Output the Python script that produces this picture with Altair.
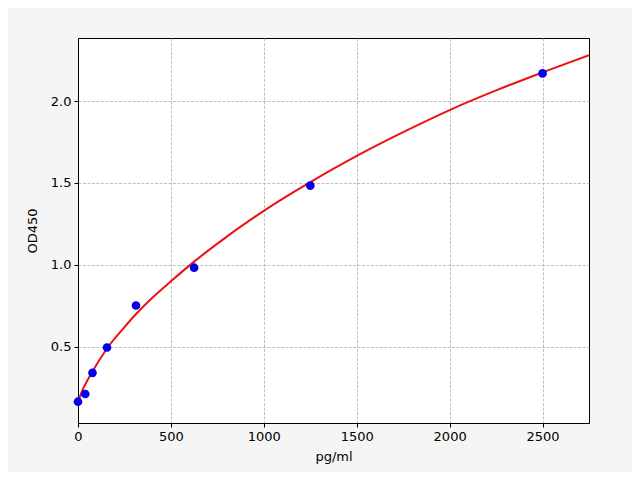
import altair as alt
import pandas as pd

# standard points
conc = [0, 39, 78, 156, 312, 625, 1250, 2500]
od = [0.165, 0.212, 0.341, 0.496, 0.752, 0.983, 1.484, 2.169]

# fitted curve
curve_x = [0, 20, 39, 78, 156, 250, 312, 400, 500, 625, 750, 1000, 1250,
           1500, 1750, 2000, 2250, 2500, 2750]
curve_y = [0.16, 0.225, 0.27, 0.35, 0.49, 0.62, 0.70, 0.80, 0.90, 1.02, 1.13,
           1.33, 1.505, 1.665, 1.81, 1.945, 2.065, 2.175, 2.28]

x_ticks = [0, 500, 1000, 1500, 2000, 2500]
y_ticks = [0.5, 1.0, 1.5, 2.0]

pts = pd.DataFrame({"x": conc, "y": od})
crv = pd.DataFrame({"x": curve_x, "y": curve_y})

xs = alt.Scale(domain=[0, 2750], nice=False, zero=False)
ys = alt.Scale(domain=[0.035, 2.385], nice=False, zero=False)

xax = alt.Axis(values=x_ticks, title="pg/ml", format="d", grid=True, labelFlush=False)
yax = alt.Axis(values=y_ticks, title="OD450", format=".1f", grid=True, labelFlush=False)

line = alt.Chart(crv).mark_line(color="#ee1111", strokeWidth=2, interpolate="monotone", clip=True).encode(
    x=alt.X("x:Q", scale=xs, axis=xax),
    y=alt.Y("y:Q", scale=ys, axis=yax),
)

dots = alt.Chart(pts).mark_point(filled=True, color="#0000ee", opacity=1, size=75, clip=False).encode(
    x=alt.X("x:Q", scale=xs),
    y=alt.Y("y:Q", scale=ys),
)

chart = alt.layer(line, dots).properties(
    width=511,
    height=385,
    autosize=alt.AutoSizeParams(type="none"),
    padding={"left": 70, "top": 30, "right": 43, "bottom": 49},
    background="#f5f5f5",
).configure_view(
    stroke="black", strokeWidth=1, fill="white"
).configure_axis(
    domainColor="black",
    domainWidth=1,
    tickColor="black",
    tickSize=4,
    tickWidth=1,
    labelFont="DejaVu Sans",
    labelFontSize=13,
    labelColor="black",
    labelPadding=3,
    titleFont="DejaVu Sans",
    titleFontSize=13,
    titleFontWeight="normal",
    titleColor="black",
    gridColor="#b0b0b0",
    gridDash=[3, 1.5],
    gridWidth=0.8,
).configure_axisX(titlePadding=7).configure_axisY(titlePadding=11)

chart.save("out.html", embed_options={"renderer": "svg", "actions": False})
